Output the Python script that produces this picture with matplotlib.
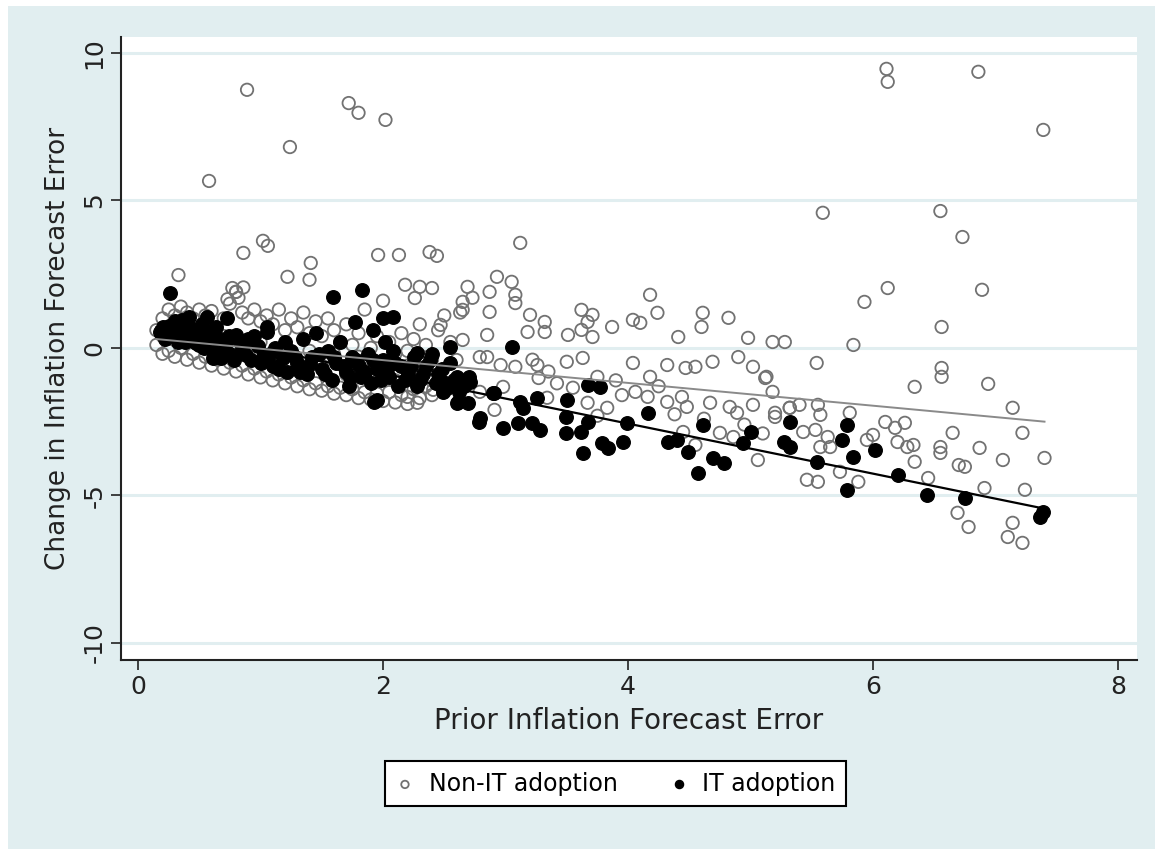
import numpy as np
import matplotlib
matplotlib.use('Agg')
from matplotlib import pyplot as plt
from matplotlib.patches import Rectangle
plt.rcParams['axes.unicode_minus'] = False

# Non-IT adoption points (x = prior error, y = change in error)
nonit_far = [(0.89, 8.75), (0.58, 5.66), (1.24, 6.81), (1.72, 8.3), (1.80, 7.97), (2.02, 7.73),
             (6.11, 9.46), (6.12, 9.02), (6.86, 9.36), (7.39, 7.39), (5.59, 4.58), (6.55, 4.64),
             (6.73, 3.76), (6.89, 1.97), (6.12, 2.03), (5.93, 1.56), (5.84, 0.1), (6.56, 0.71),
             (6.56, -0.68), (6.56, -0.98), (6.34, -1.32), (6.94, -1.22)]
nonit_upper = [(0.86, 3.22), (1.02, 3.63), (1.06, 3.46), (0.33, 2.47), (1.22, 2.41), (1.41, 2.88),
               (1.40, 2.31), (1.96, 3.15), (2.13, 3.15), (2.38, 3.25), (2.44, 3.12), (3.12, 3.56),
               (0.77, 2.03), (0.80, 1.9), (2.18, 2.14), (2.30, 2.07), (2.40, 2.03), (2.26, 1.69),
               (2.69, 2.07), (2.65, 1.56), (2.65, 1.29), (2.87, 1.9), (2.93, 2.41), (3.05, 2.24),
               (3.08, 1.8), (3.08, 1.52), (2.87, 1.22), (3.2, 1.12), (3.32, 0.88), (3.18, 0.54),
               (3.32, 0.54), (2.85, 0.44), (2.65, 0.27), (2.47, 0.78), (3.51, 0.44), (3.62, 1.29),
               (3.71, 1.12), (3.67, 0.88), (3.62, 0.61), (3.71, 0.37), (3.87, 0.71), (4.04, 0.95),
               (4.1, 0.85), (4.18, 1.8), (4.24, 1.19), (4.41, 0.37), (4.61, 1.19), (4.6, 0.71),
               (4.82, 1.02), (4.98, 0.34), (5.18, 0.2), (5.28, 0.2)]
nonit_mid = [(2.79, -0.31), (2.96, -0.58), (3.08, -0.64), (3.26, -0.58), (3.27, -1.02), (3.5, -0.47),
             (3.63, -0.34), (3.75, -0.98), (4.04, -0.51), (4.18, -0.98), (4.32, -0.58), (4.47, -0.68),
             (4.55, -0.64), (4.69, -0.47), (4.9, -0.31), (5.02, -0.64), (5.13, -0.98), (5.18, -1.49),
             (4.06, -1.49), (4.16, -1.66), (4.32, -1.83), (4.44, -1.66), (4.48, -2.0), (4.67, -1.86),
             (4.83, -2.0), (4.89, -2.2), (5.02, -1.93), (5.2, -2.2), (5.32, -2.03), (4.75, -2.88),
             (4.86, -3.02), (5.06, -3.8), (4.45, -2.85), (4.55, -3.29), (3.83, -2.03), (3.67, -1.86),
             (2.91, -2.1), (2.79, -1.49), (2.98, -1.32), (3.34, -1.69), (2.41, -1.42), (2.28, -1.86),
             (2.2, -1.66), (2.6, -0.41), (2.85, -0.31), (3.22, -0.4), (3.35, -0.8), (3.42, -1.2),
             (3.9, -1.1), (3.95, -1.6), (3.55, -1.35), (3.75, -2.3), (4.25, -1.3), (4.38, -2.25),
             (4.62, -2.4), (4.95, -2.6), (5.1, -2.9)]
nonit_right = [(5.54, -0.51), (5.12, -1.02), (7.14, -2.03), (5.32, -2.03), (5.4, -1.93), (5.55, -1.93),
               (5.57, -2.27), (5.2, -2.34), (5.43, -2.85), (5.53, -2.78), (5.63, -3.02), (5.65, -3.36),
               (5.57, -3.36), (5.81, -2.2), (5.95, -3.12), (6.0, -2.95), (6.1, -2.51), (6.18, -2.71),
               (6.26, -2.54), (6.2, -3.19), (6.28, -3.36), (6.33, -3.29), (6.34, -3.86), (6.55, -3.36),
               (6.55, -3.56), (6.65, -2.88), (6.87, -3.39), (6.7, -3.97), (6.75, -4.03), (7.06, -3.8),
               (7.22, -2.88), (7.4, -3.73), (5.46, -4.47), (5.55, -4.54), (5.73, -4.2), (5.88, -4.54),
               (6.45, -4.41), (6.91, -4.75), (7.24, -4.81), (6.69, -5.59), (6.78, -6.07), (7.14, -5.93),
               (7.1, -6.41), (7.22, -6.61)]
nonit_cluster = [(0.15, 0.6), (0.2, 1.0), (0.25, 1.3), (0.3, 1.1), (0.35, 1.4), (0.4, 1.2), (0.45, 1.0),
                 (0.5, 1.3), (0.55, 1.1), (0.6, 1.25), (0.7, 1.0), (0.75, 1.5), (0.8, 1.9), (0.82, 1.7),
                 (0.85, 1.2), (0.9, 1.0), (0.95, 1.3), (1.0, 0.9), (1.05, 1.1), (1.1, 0.8), (1.15, 1.3),
                 (1.2, 0.6), (1.25, 1.0), (1.3, 0.7), (1.35, 1.2), (1.4, 0.5), (1.45, 0.9), (1.5, 0.4),
                 (1.55, 1.0), (1.6, 0.6), (1.65, 0.2), (1.7, 0.8), (1.75, 0.1), (1.8, 0.5), (1.85, 1.3),
                 (1.9, 0.0), (1.95, 0.4), (2.0, 1.6), (2.05, 0.2), (2.1, -0.2), (2.15, 0.5), (2.2, -0.1),
                 (2.25, 0.3), (2.3, 0.8), (2.35, 0.1), (2.4, -0.4), (2.45, 0.6), (2.5, 1.1), (2.55, 0.2),
                 (0.15, 0.1), (0.2, -0.2), (0.25, -0.1), (0.3, -0.3), (0.35, 0.0), (0.4, -0.4), (0.45, -0.2),
                 (0.5, -0.5), (0.55, -0.3), (0.6, -0.6), (0.65, -0.4), (0.7, -0.7), (0.75, -0.5), (0.8, -0.8),
                 (0.85, -0.6), (0.9, -0.9), (0.95, -0.7), (1.0, -1.0), (1.05, -0.8), (1.1, -1.1), (1.15, -0.9),
                 (1.2, -1.2), (1.25, -1.0), (1.3, -1.3), (1.35, -1.1), (1.4, -1.4), (1.45, -1.2), (1.5, -1.45),
                 (1.55, -1.3), (1.6, -1.55), (1.65, -1.35), (1.7, -1.6), (1.75, -1.4), (1.8, -1.7),
                 (1.85, -1.5), (1.9, -1.75), (1.95, -1.55), (2.0, -1.8), (2.05, -1.5), (2.1, -1.85),
                 (2.15, -1.6), (2.2, -1.9), (2.25, -1.4), (2.3, -1.7), (2.35, -1.3), (2.4, -1.6), (2.5, -1.5),
                 (2.6, -1.2), (0.2, 0.4), (0.3, 0.5), (0.4, 0.3), (0.5, 0.6), (0.6, 0.2), (0.7, 0.4),
                 (0.8, 0.1), (0.9, -0.2), (1.0, 0.2), (1.1, -0.3), (1.2, 0.1), (1.3, -0.4), (1.4, -0.1),
                 (1.5, -0.6), (1.6, -0.2), (1.7, -0.9), (1.8, -0.3), (1.9, -0.8), (2.0, -0.5), (2.1, -1.1),
                 (2.2, -0.6), (2.3, -0.9), (2.4, -1.1), (0.73, 1.65), (0.86, 2.05), (2.63, 1.2), (2.73, 1.7)]

# IT adoption points
it_cluster = [(0.18, 0.55), (0.22, 0.3), (0.25, 0.75), (0.3, 0.9), (0.32, 0.45), (0.35, 0.6), (0.38, 0.2),
              (0.4, 0.85), (0.43, 0.35), (0.45, 0.65), (0.5, 0.1), (0.52, 0.8), (0.55, 0.3), (0.58, 0.55),
              (0.62, -0.1), (0.65, 0.35), (0.68, -0.35), (0.72, 0.15), (0.75, -0.2), (0.8, 0.45),
              (0.85, -0.05), (0.9, 0.3), (0.92, -0.4), (0.98, 0.05), (1.02, -0.3), (1.05, 0.55),
              (1.1, -0.6), (1.12, 0.0), (1.18, -0.35), (1.22, -0.8), (1.25, -0.1), (1.3, -0.5),
              (1.35, 0.3), (1.38, -0.9), (1.42, -0.3), (1.45, 0.5), (1.5, -0.7), (1.55, -0.1),
              (1.58, -1.1), (1.62, -0.5), (1.65, 0.2), (1.7, -0.8), (1.72, -1.3), (1.75, -0.3),
              (1.8, -0.6), (1.82, -1.0), (1.88, -0.2), (1.9, -1.2), (1.95, -0.7), (2.0, -0.4),
              (2.05, -1.0), (2.08, -0.1), (2.12, -1.3), (2.15, -0.6), (2.2, -0.9), (2.25, -0.3),
              (2.3, -1.1), (2.35, -0.6), (2.4, -0.2), (2.45, -0.9), (2.5, -1.3), (2.55, -0.5),
              (2.62, -1.5), (2.7, -1.0),
              (0.26, 1.86), (1.59, 1.73), (1.83, 1.97), (0.73, 1.02), (1.77, 0.88), (1.05, 0.71),
              (0.42, 1.05), (0.56, 1.05), (1.92, 0.61), (2.02, 0.2), (2.0, 1.02), (2.08, 1.05),
              (1.93, -1.83), (0.61, -0.34), (2.28, -0.17), (2.52, -1.36), (2.6, -1.86), (2.9, -1.53),
              (2.79, -2.37), (1.95, -1.76)]
it_dense = [(0.2, 0.7), (0.28, 0.5), (0.33, 0.2), (0.36, 0.95), (0.42, 0.55), (0.47, 0.15), (0.5, 0.45),
            (0.54, 0.0), (0.6, 0.4), (0.64, 0.7), (0.7, -0.1), (0.74, 0.4), (0.78, -0.4), (0.83, 0.2),
            (0.88, -0.25), (0.95, 0.4), (1.0, -0.5), (1.08, -0.2), (1.15, -0.7), (1.2, 0.2), (1.28, -0.3),
            (1.32, -0.8), (1.4, -0.55), (1.48, -0.2), (1.53, -0.9), (1.6, -0.3), (1.68, -0.6),
            (1.73, -1.0), (1.78, -0.4), (1.85, -0.8), (1.92, -0.4), (1.98, -1.1), (2.03, -0.7),
            (2.1, -0.5), (2.18, -1.1), (2.23, -0.6), (2.28, -1.3), (2.33, -0.9), (2.38, -0.4),
            (2.43, -1.2), (2.48, -0.7), (2.58, -1.1), (2.66, -1.3)]
it_tail = [(2.55, 0.03), (3.05, 0.03), (2.49, -1.15), (2.6, -0.98), (2.71, -1.15), (2.49, -1.49),
           (2.61, -1.83), (2.69, -1.86), (2.78, -2.51), (2.91, -1.53), (2.98, -2.71), (3.1, -2.54),
           (3.12, -1.83), (3.14, -2.03), (3.22, -2.54), (3.28, -2.78), (3.26, -1.69), (3.5, -1.76),
           (3.49, -2.34), (3.49, -2.88), (3.63, -3.56), (3.62, -2.85), (3.67, -2.51), (3.67, -1.25),
           (3.77, -1.32), (3.79, -3.22), (3.84, -3.39), (3.96, -3.19), (3.99, -2.54), (4.16, -2.2),
           (4.33, -3.19), (4.4, -3.12), (4.49, -3.53), (4.57, -4.24), (4.69, -3.73), (4.78, -3.9),
           (4.61, -2.61), (4.94, -3.22), (5.0, -2.85), (5.27, -3.19), (5.32, -2.51), (5.32, -3.36),
           (5.54, -3.86), (5.79, -2.61), (5.75, -3.12), (5.84, -3.69), (5.79, -4.81), (6.02, -3.46),
           (6.2, -4.31), (6.44, -4.98), (6.75, -5.08), (7.39, -5.56), (7.36, -5.73)]

# fitted lines (endpoints)
fit_x = [0.15, 7.4]
nonit_fit = [0.3, -2.5]
it_fit = [0.7, -5.45]

xticks = [0, 2, 4, 6, 8]
yticks = [-10, -5, 0, 5, 10]

nonit = np.array(nonit_far + nonit_upper + nonit_mid + nonit_right + nonit_cluster)
it = np.array(it_cluster + it_dense + it_tail)

fig = plt.figure(figsize=(11.55, 8.49), dpi=100, facecolor='white')
fig.patches.append(Rectangle((8 / 1155, 0), 1, 1 - 6 / 849, transform=fig.transFigure,
                             facecolor='#e1eef0', edgecolor='none', zorder=-10))
ax = fig.add_axes([121 / 1155, 1 - 660 / 849, (1137 - 121) / 1155, (660 - 37) / 849])
ax.set_facecolor('white')

for yt in yticks:
    ax.axhline(yt, color='#e1eef0', lw=2.2, zorder=0)

ax.scatter(nonit[:, 0], nonit[:, 1], s=80, facecolors='none', edgecolors='#727272', linewidths=1.3,
           zorder=2, label='Non-IT adoption')
ax.scatter(it[:, 0], it[:, 1], s=95, color='black', edgecolors='black', zorder=3, label='IT adoption')
ax.plot(fit_x, it_fit, color='black', lw=1.6, zorder=4)
ax.plot(fit_x, nonit_fit, color='#8a8a8a', lw=1.4, zorder=5)

ax.set_xlim(-0.139, 8.155)
ax.set_ylim(-10.58, 10.54)
ax.set_xticks(xticks)
ax.set_yticks(yticks)
ax.tick_params(axis='both', direction='out', length=7, width=1.2, labelsize=18, colors='#222222')
for lab in ax.get_yticklabels():
    lab.set_rotation(90)
    lab.set_va('center')
for side in ['top', 'right']:
    ax.spines[side].set_visible(False)
for side in ['left', 'bottom']:
    ax.spines[side].set_linewidth(1.5)
    ax.spines[side].set_color('#222222')

ax.set_xlabel('Prior Inflation Forecast Error', fontsize=20, color='#222222', labelpad=6)
ax.set_ylabel('Change in Inflation Forecast Error', fontsize=19, color='#222222', labelpad=8)

leg = fig.legend(loc='center', bbox_to_anchor=(0.533, 0.077), ncol=2, fontsize=17, frameon=True,
                 fancybox=False, edgecolor='black', facecolor='white', framealpha=1,
                 markerscale=0.6, handletextpad=0.6, columnspacing=2.2, borderpad=0.45,
                 handlelength=0.8)
leg.get_frame().set_linewidth(1.5)

plt.savefig('out.png', dpi=100, facecolor=fig.get_facecolor())
plt.close()
